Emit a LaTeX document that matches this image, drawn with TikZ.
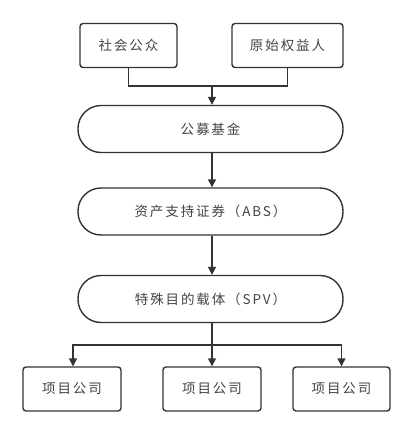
\documentclass[tikz,border=0pt]{standalone}
\usepackage{fontspec}
\setmainfont{Noto Sans CJK SC}
\newfontfamily\boxfont[LetterSpace=14]{Noto Sans CJK SC}
\usepackage{tikz}
\usetikzlibrary{arrows.meta,calc}
\definecolor{linegray}{HTML}{333333}
\definecolor{textgray}{HTML}{444444}

\begin{document}
\begin{tikzpicture}[x=1pt,y=-1pt,
    box/.style={draw=linegray,line width=1.4pt,rounded corners=3pt,minimum height=44pt,
      inner sep=0pt,text=textgray,font=\boxfont\fontsize{13.5}{15}\selectfont},
    pill/.style={box,rounded corners=23pt,minimum width=265pt,minimum height=47pt},
    link/.style={draw=linegray,line width=1.4pt},
    arr/.style={link,-{Triangle[length=8pt,width=8pt]}}]
      \useasboundingbox (0,0) rectangle (414,434);
      % sources
      \node [box,minimum width=97pt] (pub) at (128.5,45.5) {社会公众};
      \node [box,minimum width=111pt] (orig) at (287.5,45.5) {原始权益人};
      % middle chain
      \node [pill] (fund) at (210.5,129) {公募基金};
      \node [pill] (abs) at (210.5,211.5) {资产支持证券（ABS）};
      \node [pill] (spv) at (210.5,299) {特殊目的载体（SPV）};
      % project companies
      \node [box,minimum width=98pt] (com1) at (72,389) {项目公司};
      \node [box,minimum width=98pt] (com2) at (212,389) {项目公司};
      \node [box,minimum width=97pt] (com3) at (341.5,389) {项目公司};
      \coordinate (top) at (212,86);
      \coordinate (split) at (212,345);
      \draw [link] (pub.south) |- (top);
      \draw [link] (orig.south) |- (top);
      \draw [arr] (top) -- (top |- fund.north);
      \draw [arr] (fund.south -| top) -- (abs.north -| top);
      \draw [arr] (abs.south -| top) -- (spv.north -| top);
      \draw [link] (spv.south -| split) -- (split);
      \draw [arr] (split) -| ([xshift=1pt]com1.north);
      \draw [arr] (split) -- (com2.north);
      \draw [arr] (split) -| (com3.north);
\end{tikzpicture}
\end{document}
